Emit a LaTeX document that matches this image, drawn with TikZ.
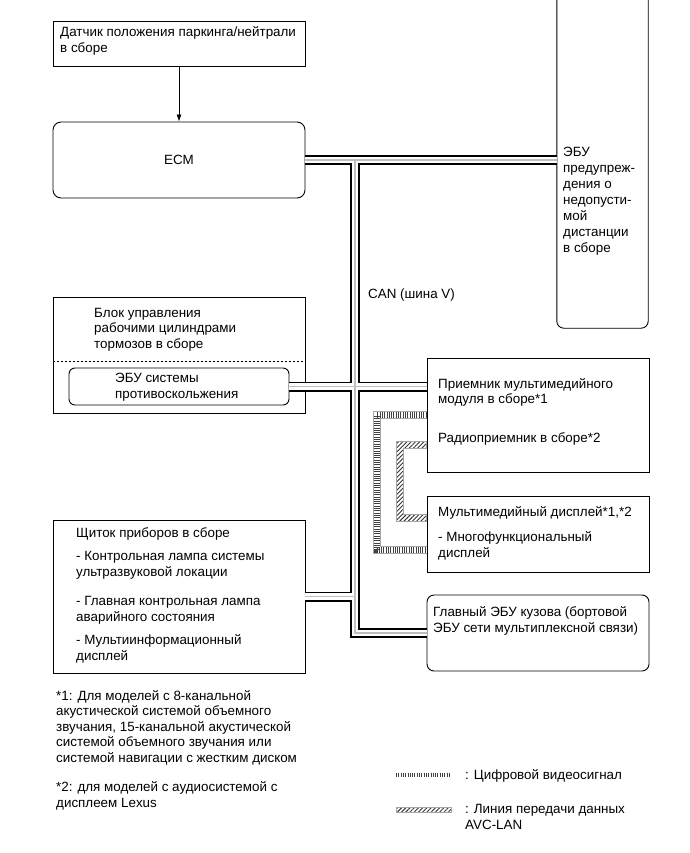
\documentclass[tikz,border=0pt]{standalone}
\usepackage{fontspec}
\setmainfont{Liberation Sans}
\usetikzlibrary{arrows.meta,positioning,calc,patterns.meta}
\newcommand{\diagfont}{\fontsize{13.4}{15.5}\selectfont}

\begin{document}
\begin{tikzpicture}[x=1pt, y=-1pt, line join=miter,
		box/.style={draw, line width=0.9pt, inner sep=0pt, minimum width=252pt},
		rbox/.style={box, rounded corners=7pt},
		lbl/.style={anchor=base west, align=left, inner sep=0pt, font=\diagfont},
		busblack/.style={line width=10pt, black},
		buswhite/.style={line width=6.4pt, white},
		buscore/.style={line width=1.6pt, gray!50},
		vidgray/.style={line width=7.5pt, gray!70},
		vidwhite/.style={line width=5.5pt, white},
		vidtick/.style={line width=5.5pt, black!75, dash pattern=on 0.9pt off 1.4pt},
		avcfill/.style={draw=gray!70, line width=0.8pt, pattern={Lines[angle=45,distance=3pt,line width=0.9pt]}, pattern color=black!80}]
		
		\useasboundingbox (0,0) rectangle (689,853);
		
		% Boxes on the left
		\node[box, minimum height=45pt] (sensor) at (179,43.5) {};
		\node[rbox, rounded corners=8pt, minimum height=76pt, font=\diagfont] (ecm) at (179,160) {ECM};
		\node[box, minimum height=116pt] (brake) at (179,355) {};
		\node[rbox, rounded corners=6pt, minimum width=220pt, minimum height=37pt] (abs) at (179,386.5) {};
		\node[box, minimum height=153pt] (inst) at (179,596.5) {};
		
		% Boxes on the right
		\node[inner sep=0pt, minimum width=91pt, minimum height=328pt] (warn) at (602.5,164) {};
		\draw[line width=0.9pt, rounded corners=7pt] (warn.north west) -- (warn.south west) -- (warn.south east) -- (warn.north east);
		\node[box, minimum width=222pt, minimum height=114pt] (recv) at (538,415) {};
		\node[box, minimum width=222pt, minimum height=76pt] (disp) at (538,534) {};
		\node[rbox, minimum width=222pt, minimum height=76pt] (body) at (538,633) {};
		
		% Dashed split in the brake block
		\draw[line width=0.8pt, dash pattern=on 2pt off 2pt] (brake.west |- 0,361) coordinate (split) -- (split -| brake.east);
		
		% Texts (base = last line)
		\node[lbl] (sensortxt) at (60,52.5) {Датчик положения паркинга/нейтрали\\в сборе};
		\node[lbl] (cantxt) at (368,298) {CAN (шина V)};
		\node[lbl, font=\fontsize{13.4}{16}\selectfont] (warntxt) at (563,252) {ЭБУ\\предупреж-\\дения о\\недопусти-\\мой\\дистанции\\в сборе};
		\node[lbl] (braketxt) at (94,348) {Блок управления\\рабочими цилиндрами\\тормозов в сборе};
		\node[lbl] (abstxt) at (115,398) {ЭБУ системы\\противоскольжения};
		\node[lbl] (recvtxt) at (438,403.5) {Приемник мультимедийного\\модуля в сборе*1};
		\node[lbl] (radiotxt) at (438,442) {Радиоприемник в сборе*2};
		\node[lbl] (disptxt) at (438,516) {Мультимедийный дисплей*1,*2};
		\node[lbl] (mfdtxt) at (438,557) {- Многофункциональный\\дисплей};
		\node[lbl] (bodytxt) at (433,632) {Главный ЭБУ кузова (бортовой\\ЭБУ сети мультиплексной связи)};
		\node[lbl] (insttxt) at (76,537) {Щиток приборов в сборе};
		\node[lbl] (lamptxt) at (76,576) {- Контрольная лампа системы\\ультразвуковой локации};
		\node[lbl] (mastertxt) at (76,621) {- Главная контрольная лампа\\аварийного состояния};
		\node[lbl] (mitxt) at (76,660) {- Мультиинформационный\\дисплей};
		
		% Footnotes
		\node[lbl] (note1) at (56,762) {*1: Для моделей с 8-канальной\\акустической системой объемного\\звучания, 15-канальной акустической\\системой объемного звучания или\\системой навигации с жестким диском};
		\node[lbl] (note2) at (56,807) {*2: для моделей с аудиосистемой с\\дисплеем Lexus};
		
		% Sensor to ECM
		\draw[line width=0.8pt, -{Latex[length=7pt,width=5pt]}] (sensor.south) -- (ecm.north);
		
		% CAN bus (V bus)
		\coordinate (busx) at (355,0);
		\foreach \s in {busblack,buswhite,buscore}{
			\draw[\s] (ecm.east) -- (ecm.east -| warn.west);
			\draw[\s] (ecm.east -| busx) -- (body.west -| busx) -- (body.west);
			\draw[\s] (abs.east) -- (abs.east -| recv.west);
			\draw[\s] (inst.east) -- (inst.east -| busx);
		}
		
		% Digital video signal
		\coordinate (vidx) at (377,0);
		\coordinate (vidbot) at ($(disp.west)+(0,16)$);
		\foreach \s in {vidgray,vidwhite,vidtick}
			\draw[\s] (recv.west) -- (recv.west -| vidx) -- (vidbot -| vidx) -- (vidbot);
		
		% AVC-LAN
		\coordinate (avcx) at (400,0);
		\coordinate (avctop) at ($(recv.west)+(0,30)$);
		\coordinate (avcbot) at ($(disp.west)+(0,-16)$);
		\draw[avcfill] ($(avctop)+(0,-3.5)$) -- ($(avctop -| avcx)+(-3.5,-3.5)$) -- ($(avcbot -| avcx)+(-3.5,3.5)$) -- ($(avcbot)+(0,3.5)$)
			-- ($(avcbot)+(0,-3.5)$) -- ($(avcbot -| avcx)+(3.5,-3.5)$) -- ($(avctop -| avcx)+(3.5,3.5)$) -- ($(avctop)+(0,3.5)$) -- cycle;
		
		% Legend
		\coordinate (vidleg) at (396,775);
		\coordinate (avcleg) at (396,810);
		\foreach \s in {vidgray,vidwhite,vidtick}
			\draw[\s, line width=4.5pt] (vidleg) -- ++(55,0);
		\draw[avcfill] ($(avcleg)+(0,-2.5)$) rectangle ++(55,5);
		\node[lbl] (vidtxt) at (465,779) {: Цифровой видеосигнал};
		\node[lbl] (avctxt) at (465,829) {: Линия передачи данных\\AVC-LAN};
		
	\end{tikzpicture}
\end{document}
